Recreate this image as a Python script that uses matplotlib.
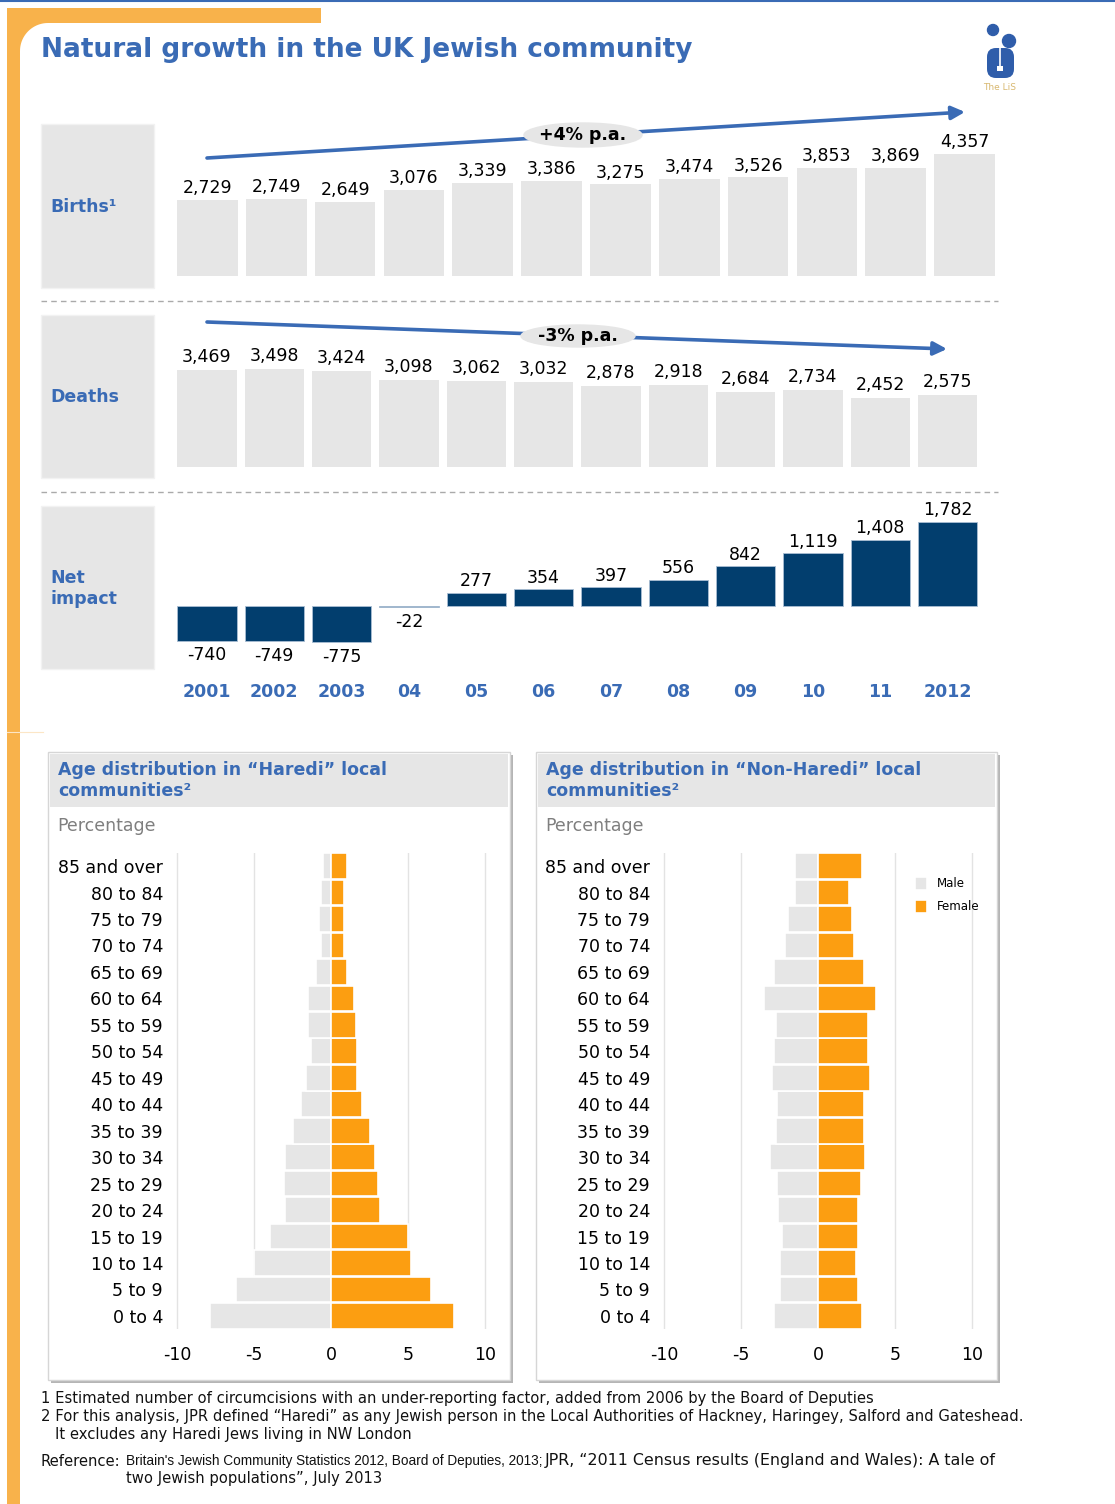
import numpy as np
import matplotlib
matplotlib.use("Agg")
import matplotlib.pyplot as plt
import matplotlib.transforms as mtransforms
from matplotlib.patches import Rectangle, Ellipse, Polygon, Circle, FancyBboxPatch

# Births, deaths and net natural growth, 2001-2012
years = ['2001', '2002', '2003', '04', '05', '06', '07', '08', '09', '10', '11', '2012']
births = [2729, 2749, 2649, 3076, 3339, 3386, 3275, 3474, 3526, 3853, 3869, 4357]
deaths = [3469, 3498, 3424, 3098, 3062, 3032, 2878, 2918, 2684, 2734, 2452, 2575]
net = [-740, -749, -775, -22, 277, 354, 397, 556, 842, 1119, 1408, 1782]

# Age pyramids (percent), youngest band first
ages = ['0 to 4', '5 to 9', '10 to 14', '15 to 19', '20 to 24', '25 to 29',
        '30 to 34', '35 to 39', '40 to 44', '45 to 49', '50 to 54', '55 to 59',
        '60 to 64', '65 to 69', '70 to 74', '75 to 79', '80 to 84', '85 and over']
haredi_male = [7.9, 6.2, 5.0, 4.0, 3.0, 3.05, 3.0, 2.5, 2.0, 1.65, 1.35, 1.5,
               1.5, 1.0, 0.7, 0.8, 0.65, 0.55]
haredi_female = [7.95, 6.45, 5.15, 5.0, 3.15, 3.05, 2.85, 2.5, 2.0, 1.65, 1.65, 1.6,
                 1.5, 1.0, 0.8, 0.8, 0.85, 1.0]
nonharedi_male = [2.85, 2.5, 2.5, 2.35, 2.6, 2.65, 3.15, 2.75, 2.65, 3.0, 2.85, 2.75,
                  3.5, 2.85, 2.15, 2.0, 1.5, 1.5]
nonharedi_female = [2.85, 2.55, 2.45, 2.55, 2.55, 2.75, 3.05, 2.95, 2.95, 3.35, 3.25, 3.2,
                    3.75, 2.95, 2.35, 2.2, 2.0, 2.85]

BLUE = '#3A6BB5'
NAVY = '#023E6E'
GREY = '#E6E6E6'
ORANGE = '#FC9E11'
FRAME = '#F8B24B'

W, H = 1115, 1504
fig = plt.figure(figsize=(W / 100, H / 100), dpi=100)


def px_axes(x0, y0, x1, y1):
    a = fig.add_axes([x0 / W, 1 - y1 / H, (x1 - x0) / W, (y1 - y0) / H])
    a.set_facecolor('none')
    return a


# background layer in pixel coordinates
bg = fig.add_axes([0, 0, 1, 1])
bg.set_xlim(0, W)
bg.set_ylim(H, 0)
bg.axis('off')

bg.plot([0, W], [1, 1], color=BLUE, lw=1.5)

# orange frame with rounded inner corner
bg.add_patch(Rectangle((7, 8), 314, 15, color=FRAME, lw=0))
bg.add_patch(Rectangle((7, 8), 13, H - 8, color=FRAME, lw=0))
t = np.linspace(0, np.pi / 2, 30)
corner = [(20, 23)] + list(zip(48 - 28 * np.sin(t), 51 - 28 * np.cos(t)))
bg.add_patch(Polygon(corner, closed=True, color=FRAME, lw=0))
bg.plot([7, 43], [732, 732], color='#FCE6C6', lw=0.8)

bg.text(41, 50, 'Natural growth in the UK Jewish community', fontsize=19,
        fontweight='bold', color=BLUE, va='center', ha='left')

# logo
bg.add_patch(Circle((993, 30), 5.5, color='#2F5DAA'))
bg.add_patch(Circle((1009, 41), 6.5, color='#2F5DAA'))
bg.add_patch(FancyBboxPatch((987, 48), 27, 30, boxstyle='round,pad=0,rounding_size=9',
                            color='#2F5DAA', lw=0))
bg.plot([1000, 1000], [48, 68], color='white', lw=1.2)
bg.add_patch(Rectangle((997, 66), 6, 5, color='white', lw=0))
bg.text(1000, 88, 'The LiS', fontsize=6.5, color='#D8B870', ha='center', va='center')

# row label boxes
for y0, y1, lab in [(124, 288, 'Births¹'), (315, 478, 'Deaths'), (506, 669, 'Net\nimpact')]:
    bg.add_patch(Rectangle((41, y0), 113, y1 - y0, facecolor=GREY, edgecolor='#F2F2F2', lw=1))
    bg.text(50, (y0 + y1) / 2 + 1, lab, fontsize=12.5,
            fontweight='bold', color=BLUE, va='center', ha='left', linespacing=1.15)

for y in (301, 492):
    bg.plot([41, 998], [y, y], color='#AAAAAA', lw=1, dashes=(4, 3))

# trend arrows
bg.annotate('', xy=(965, 112), xytext=(207, 158),
            arrowprops=dict(arrowstyle='-|>', lw=2.6, color=BLUE, mutation_scale=20,
                            shrinkA=0, shrinkB=0))
bg.add_patch(Ellipse((583, 135), 118, 24, color=GREY, zorder=3))
bg.text(583, 135, '+4% p.a.', fontsize=12.5, fontweight='bold', ha='center', va='center', zorder=4)

bg.annotate('', xy=(947, 349), xytext=(207, 322),
            arrowprops=dict(arrowstyle='-|>', lw=2.6, color=BLUE, mutation_scale=20,
                            shrinkA=0, shrinkB=0))
bg.add_patch(Ellipse((578, 336), 114, 22, color=GREY, zorder=3))
bg.text(578, 336, '-3% p.a.', fontsize=12.5, fontweight='bold', ha='center', va='center', zorder=4)

x = np.arange(len(years))

# births
ax1 = px_axes(173.1, 110, 998.9, 276)
ax1.bar(x, births, width=0.88, color=GREY)
for i, v in enumerate(births):
    ax1.annotate(f'{v:,}', (i, v), xytext=(0, 2), textcoords='offset points',
                 ha='center', va='bottom', fontsize=12.5)
ax1.set_xlim(-0.5, 11.5)
ax1.set_ylim(0, 5929)
ax1.axis('off')

# deaths
ax2 = px_axes(173.3, 310, 981.2, 467)
ax2.bar(x, deaths, width=0.88, color=GREY)
for i, v in enumerate(deaths):
    ax2.annotate(f'{v:,}', (i, v), xytext=(0, 3), textcoords='offset points',
                 ha='center', va='bottom', fontsize=12.5)
ax2.set_xlim(-0.5, 11.5)
ax2.set_ylim(0, 5607)
ax2.axis('off')

# net impact
ax3 = px_axes(173.3, 500, 981.2, 680)
ax3.bar(x, net, width=0.88, color=NAVY, edgecolor='#A9BED3', lw=0.6)
for i, v in enumerate(net):
    if v >= 0:
        ax3.annotate(f'{v:,}', (i, v), xytext=(0, 2), textcoords='offset points',
                     ha='center', va='bottom', fontsize=12.5)
    else:
        ax3.annotate(f'{v:,}', (i, v), xytext=(0, -4), textcoords='offset points',
                     ha='center', va='top', fontsize=12.5)
ax3.set_xlim(-0.5, 11.5)
ax3.set_ylim(-1574, 2255)
ax3.axis('off')
tr = mtransforms.blended_transform_factory(ax3.transData, bg.transData)
for i, lab in enumerate(years):
    ax3.text(i, 692, lab, transform=tr, ha='center', va='center', fontsize=12.5,
             fontweight='bold', color=BLUE)

# age pyramid panels
panels = [
    (48, 'Age distribution in “Haredi” local\ncommunities²', haredi_male, haredi_female),
    (536, 'Age distribution in “Non-Haredi” local\ncommunities²', nonharedi_male, nonharedi_female),
]
for k, (px0, title, male, female) in enumerate(panels):
    pw = 462 if k == 0 else 461
    bg.add_patch(Rectangle((px0 + 3, 755), pw, 628, color='#B5B5B5', lw=0))
    bg.add_patch(Rectangle((px0, 752), pw, 628, facecolor='white', edgecolor='#D6D6D6', lw=1))
    bg.add_patch(Rectangle((px0 + 2, 754), pw - 4, 53, color=GREY, lw=0))
    bg.text(px0 + 10, 761, title, fontsize=12.5, fontweight='bold', color=BLUE,
            ha='left', va='top', linespacing=1.25)
    bg.text(px0 + 9, 826, 'Percentage', fontsize=12.5, color='#7F7F7F', ha='left', va='center')

    zero = 331.3 if k == 0 else 818.3
    ax = px_axes(zero - 158.6, 852.8, zero + 158.6, 1329.2)
    y = np.arange(len(ages))
    for g in (-10, -5, 5, 10):
        ax.axvline(g, color='#E3E3E3', lw=1, zorder=0)
    hm = ax.barh(y, -np.array(male), height=0.97, color=GREY, edgecolor='white', lw=1.2, label='Male')
    hf = ax.barh(y, female, height=0.97, color=ORANGE, edgecolor='white', lw=1.2, label='Female')
    ax.set_xlim(-10.3, 10.3)
    ax.set_ylim(-0.5, 17.5)
    ax.set_xticks([-10, -5, 0, 5, 10])
    ax.set_xticklabels(['-10', '-5', '0', '5', '10'])
    ax.set_yticks(y)
    ax.set_yticklabels(ages)
    ax.tick_params(axis='x', length=0, pad=12, labelsize=12.5)
    ax.tick_params(axis='y', length=0, pad=7, labelsize=12.5)
    for s in ax.spines.values():
        s.set_visible(False)
    if k == 1:
        ax.legend(handles=[hm, hf], loc='upper left', bbox_to_anchor=(909 / W, 1 - 871 / H),
                  bbox_transform=fig.transFigure, frameon=False, fontsize=8.5,
                  handlelength=1.05, handleheight=1.3, labelspacing=0.8,
                  handletextpad=0.8, borderpad=0)

# footnotes
notes = [
    (41, 1399, '1 Estimated number of circumcisions with an under-reporting factor, added from 2006 by the Board of Deputies'),
    (41, 1417, '2 For this analysis, JPR defined “Haredi” as any Jewish person in the Local Authorities of Hackney, Haringey, Salford and Gateshead.'),
    (55, 1435, 'It excludes any Haredi Jews living in NW London'),
    (41, 1461, 'Reference:'),
    (126, 1478, 'two Jewish populations”, July 2013'),
]
for nx, ny, s in notes:
    bg.text(nx, ny, s, fontsize=10.6, ha='left', va='center', color='#111111')
bg.text(545, 1461, 'JPR, “2011 Census results (England and Wales): A tale of',
        fontsize=11.4, ha='left', va='center', color='#111111')
bg.text(126, 1461, "Britain's Jewish Community Statistics 2012, Board of Deputies, 2013;",
        fontsize=9.8, family='Liberation Sans', ha='left', va='center', color='#111111')

fig.savefig('out.png', dpi=100)
